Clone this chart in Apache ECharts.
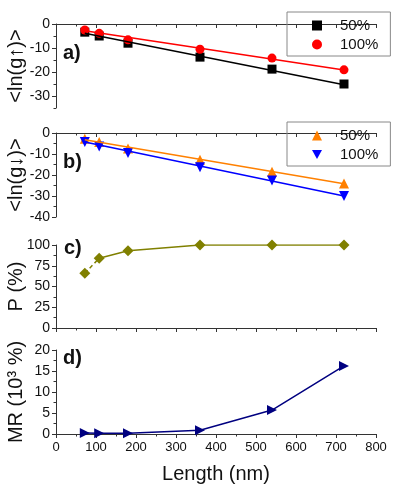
<!DOCTYPE html>
<html>
<head>
<meta charset="utf-8">
<script src="https://cdn.jsdelivr.net/npm/echarts@6/dist/echarts.min.js"></script>
<style>
  html, body { margin: 0; padding: 0; background: #fff; }
  #chart { width: 399px; height: 494px; }
</style>
</head>
<body>
<div id="chart"></div>
<script>
// lengths of the wires (nm)
var lengths = [72, 108, 180, 360, 540, 720];
var fitX = [72, 720];

// panel a: <ln(g up)>
var gUp50 = [-3.4, -5.0, -8.0, -13.8, -18.8, -25.0];
var gUp100 = [-2.5, -3.9, -6.6, -10.5, -14.2, -19.1];
var gUp50Fit = [-3.9, -25.3];
var gUp100Fit = [-2.8, -19.2];
var gUpTicks = [0, -10, -20, -30];

// panel b: <ln(g down)>
var gDn50 = [-2.7, -4.3, -7.4, -12.7, -18.5, -24.0];
var gDn100 = [-4.3, -6.4, -9.5, -16.3, -22.6, -30.0];
var gDn50Fit = [-3.2, -24.2];
var gDn100Fit = [-4.3, -30.0];

// panel c: polarization P (%)
var polarization = [66, 84, 93, 100, 100, 100];

// panel d: MR (10^3 %)
var mr = [0.25, 0.2, 0.15, 0.9, 5.7, 16.2];

var legendNames = { a50: '50%', a100: '100%', b50: '50%', b100: '100%' };

function zip(xs, ys) {
  return xs.map(function (x, i) { return [x, ys[i]]; });
}

var FONT = 'Liberation Sans, Arial, sans-serif';
var axisColor = '#333';
var triDown = 'path://M0,0L20,0L10,18Z';
var triRight = 'path://M0,0L18,10L0,20Z';

var grids = [
  { left: 56, width: 320, top: 24, height: 84 },
  { left: 56, width: 320, top: 133, height: 84 },
  { left: 56, width: 320, top: 245, height: 83 },
  { left: 56, width: 320, top: 350, height: 84 }
].map(function (g) {
  g.containLabel = false;
  g.outerBoundsMode = 'none';
  return g;
});

function xAxis(idx, showLabel) {
  return {
    type: 'value', gridIndex: idx, min: 0, max: 800, interval: 100,
    axisLine: { lineStyle: { color: axisColor, width: 1 } },
    axisTick: { length: 4, lineStyle: { color: axisColor } },
    minorTick: { show: true, splitNumber: 2, length: 2.5, lineStyle: { color: axisColor } },
    splitLine: { show: false },
    axisLabel: { show: showLabel, color: '#111', fontFamily: FONT, fontSize: 13, margin: 7 },
    name: showLabel ? 'Length (nm)' : '',
    nameLocation: 'middle', nameGap: 30, nameMoveOverlap: false,
    nameTextStyle: { fontFamily: FONT, fontSize: 20, color: '#111' }
  };
}

function yAxis(idx, min, max, interval, name) {
  return {
    type: 'value', gridIndex: idx, min: min, max: max, interval: interval,
    axisLine: { show: true, lineStyle: { color: axisColor, width: 1 } },
    axisTick: { show: true, length: 4, lineStyle: { color: axisColor } },
    minorTick: { show: true, splitNumber: 2, length: 2.5, lineStyle: { color: axisColor } },
    splitLine: { show: false },
    axisLabel: { color: '#111', fontFamily: FONT, fontSize: 14, margin: 6 },
    name: name, nameLocation: 'middle', nameGap: 30, nameMoveOverlap: false,
    nameTextStyle: { fontFamily: FONT, fontSize: 20, color: '#111' }
  };
}

// panel a: range -35..0, steps of 5 give the short ticks, labels every 10
var yAxisA = yAxis(0, -35, 0, 5, '<ln(g\u2191)>');
yAxisA.minorTick = { show: false };
yAxisA.axisTick = { show: true, length: 4, customValues: gUpTicks, lineStyle: { color: axisColor } };
yAxisA.axisLabel.customValues = gUpTicks;
var yAxisAMinor = {
  type: 'value', gridIndex: 0, min: -35, max: 0, interval: 5, position: 'left',
  axisLine: { show: false }, axisLabel: { show: false }, splitLine: { show: false },
  axisTick: { show: true, length: 2.5, lineStyle: { color: axisColor } }
};

function fitLine(name, idx, xs, ys, color) {
  return {
    name: name, type: 'line', xAxisIndex: idx, yAxisIndex: idx,
    data: zip(xs, ys), showSymbol: false, symbol: 'none',
    itemStyle: { color: color },
    lineStyle: { color: color, width: 1.5 }, silent: true
  };
}

function marks(name, idx, ys, color, symbol, size) {
  return {
    name: name, type: 'scatter', xAxisIndex: idx, yAxisIndex: idx,
    data: zip(lengths, ys), symbol: symbol, symbolSize: size,
    itemStyle: { color: color, opacity: 1 }
  };
}

function legendBox(top, items) {
  return {
    orient: 'vertical', left: 287, top: top,
    padding: [6, 12, 4, 25], itemGap: 4,
    itemWidth: 10, itemHeight: 10,
    borderColor: '#888', borderWidth: 1,
    selectedMode: false,
    data: items,
    formatter: function (n) { return legendNames[n]; },
    textStyle: { fontFamily: FONT, fontSize: 15, color: '#111', padding: [0, 0, 0, 13] }
  };
}

function panelLabel(text, x, y) {
  return {
    type: 'text', left: x, top: y,
    style: { text: text, font: 'bold 20px ' + FONT, fill: '#111' }
  };
}

var chart = echarts.init(document.getElementById('chart'), null, { renderer: 'canvas' });

chart.setOption({
  animation: false,
  backgroundColor: '#fff',
  grid: grids,
  xAxis: [xAxis(0, false), xAxis(1, false), xAxis(2, false), xAxis(3, true)],
  yAxis: [
    yAxisA,
    yAxis(1, -40, 0, 10, '<ln(g\u2193)>'),
    yAxis(2, 0, 100, 25, 'P (%)'),
    yAxis(3, 0, 20, 5, 'MR (10\u00b3 %)'),
    yAxisAMinor
  ],
  legend: [
    legendBox(12, [{ name: 'a50', icon: 'rect' }, { name: 'a100', icon: 'circle' }]),
    legendBox(122, [{ name: 'b50', icon: 'triangle' }, { name: 'b100', icon: triDown }])
  ],
  graphic: [
    panelLabel('a)', 63, 43),
    panelLabel('b)', 63, 152),
    panelLabel('c)', 64, 238),
    panelLabel('d)', 63, 348)
  ],
  series: [
    fitLine('a50 fit', 0, fitX, gUp50Fit, '#000'),
    fitLine('a100 fit', 0, fitX, gUp100Fit, '#ff0000'),
    marks('a50', 0, gUp50, '#000', 'rect', 9),
    marks('a100', 0, gUp100, '#ff0000', 'circle', 9),

    fitLine('b50 fit', 1, fitX, gDn50Fit, '#ff8000'),
    fitLine('b100 fit', 1, fitX, gDn100Fit, '#0000ff'),
    marks('b50', 1, gDn50, '#ff8000', 'triangle', 10),
    marks('b100', 1, gDn100, '#0000ff', triDown, 10),

    {
      name: 'P dashed', type: 'line', xAxisIndex: 2, yAxisIndex: 2,
      data: zip(lengths.slice(0, 2), polarization.slice(0, 2)),
      symbol: 'none', lineStyle: { color: '#808000', width: 1.5, type: [4, 3] }
    },
    {
      name: 'P', type: 'line', xAxisIndex: 2, yAxisIndex: 2,
      data: zip(lengths.slice(1), polarization.slice(1)),
      symbol: 'none', lineStyle: { color: '#808000', width: 1.5 }
    },
    marks('P marks', 2, polarization, '#808000', 'diamond', 11),

    {
      name: 'MR', type: 'line', xAxisIndex: 3, yAxisIndex: 3,
      data: zip(lengths, mr),
      symbol: triRight, symbolSize: 10, showAllSymbol: true,
      itemStyle: { color: '#000080' },
      lineStyle: { color: '#000080', width: 1.5 }
    }
  ]
});
</script>
</body>
</html>
